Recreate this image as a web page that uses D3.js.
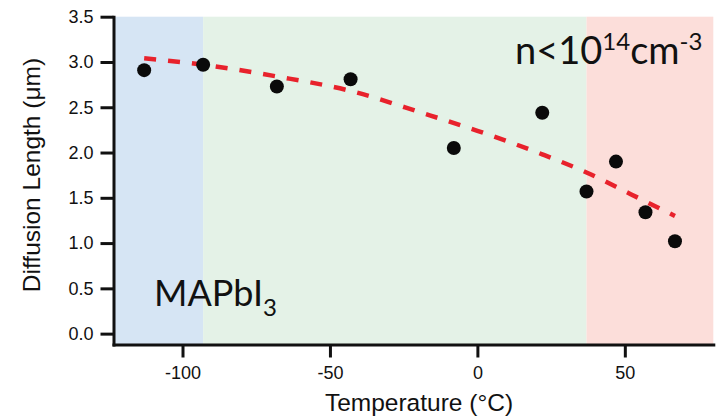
<!DOCTYPE html>
<html>
<head>
<meta charset="utf-8">
<script src="https://cdn.jsdelivr.net/npm/d3@7"></script>
<style>
  body { margin: 0; background: #fff; }
  svg { display: block; }
  .axis text { font-family: "Liberation Sans", Arial, sans-serif; font-size: 18px; fill: #111; }
  .axis path, .axis line { stroke: #111; stroke-width: 3; }
  .title { font-family: "Liberation Sans", Arial, sans-serif; font-size: 24.5px; fill: #111; }
  .note { font-family: Lato, "Open Sans", sans-serif; fill: #111; }
</style>
</head>
<body>
<svg width="721" height="416"></svg>
<script>
// measured points
const temps = [-113, -93, -68, -43, -8, 22, 37, 47, 57, 67];
const lengths = [2.91, 2.97, 2.73, 2.81, 2.05, 2.44, 1.57, 1.90, 1.34, 1.02];

// dashed guide curve
const fitTemps = [-113, -93, -68, -43, -18, 0, 22, 37, 52, 67];
const fitLengths = [3.04, 2.97, 2.84, 2.68, 2.43, 2.24, 1.98, 1.78, 1.54, 1.30];

// shaded temperature regions
const regionEdges = [-123.4, -93, 37, 80];
const regionColors = ["#d6e5f4", "#e4f2e7", "#fcdeda"];

const xTicks = [-100, -50, 0, 50];
const yTicks = [0, 0.5, 1, 1.5, 2, 2.5, 3, 3.5];

const svg = d3.select("svg");

const x = d3.scaleLinear().domain([-123.4, 80]).range([113.5, 713.3]);
const y = d3.scaleLinear().domain([-0.12, 3.5]).range([344.5, 16.7]);

// background bands
svg.append("g")
  .selectAll("rect")
  .data(regionColors)
  .enter()
  .append("rect")
  .attr("x", (d, i) => x(regionEdges[i]))
  .attr("y", y(3.5))
  .attr("width", (d, i) => x(regionEdges[i + 1]) - x(regionEdges[i]))
  .attr("height", y(-0.12) - y(3.5))
  .attr("fill", (d) => d);

// dashed fit line
const line = d3.line()
  .x((d, i) => x(fitTemps[i]))
  .y((d) => y(d))
  .curve(d3.curveMonotoneX);

svg.append("path")
  .attr("d", line(fitLengths))
  .attr("fill", "none")
  .attr("stroke", "#e8222c")
  .attr("stroke-width", 4.5)
  .attr("stroke-dasharray", "12,12");

// points
svg.append("g")
  .selectAll("circle")
  .data(lengths)
  .enter()
  .append("circle")
  .attr("cx", (d, i) => x(temps[i]))
  .attr("cy", (d) => y(d))
  .attr("r", 7)
  .attr("fill", "#0a0a0a");

// axes (plain hyphen for negatives, like the original)
const xAxis = d3.axisBottom(x)
  .tickValues(xTicks)
  .tickFormat((d) => String(d))
  .tickSize(13)
  .tickSizeOuter(0)
  .tickPadding(9);

svg.append("g")
  .attr("class", "axis")
  .attr("transform", "translate(0, 344.5)")
  .call(xAxis)
  .call((g) => g.select(".domain").attr("stroke-linecap", "square"));

const yAxis = d3.axisLeft(y)
  .tickValues(yTicks)
  .tickFormat((d) => d.toFixed(1))
  .tickSize(13)
  .tickSizeOuter(0)
  .tickPadding(7);

svg.append("g")
  .attr("class", "axis")
  .attr("transform", "translate(113.5, 0)")
  .call(yAxis)
  .call((g) => g.select(".domain").attr("stroke-linecap", "square"));

svg.selectAll(".axis text").attr("font-family", null).attr("font-size", null);

// axis titles
svg.append("text")
  .attr("class", "title")
  .attr("x", 419)
  .attr("y", 411)
  .attr("text-anchor", "middle")
  .text("Temperature (°C)");

svg.append("text")
  .attr("class", "title")
  .attr("transform", "translate(40, 175) rotate(-90)")
  .attr("text-anchor", "middle")
  .text("Diffusion Length (μm)");

// annotations
const mat = svg.append("text")
  .attr("class", "note")
  .attr("x", 154)
  .attr("y", 306)
  .style("font-size", "36px");
mat.append("tspan").text("MAPbI");
mat.append("tspan").attr("dy", 10).style("font-size", "24px").text("3");

const dens = svg.append("text")
  .attr("class", "note")
  .attr("x", 515)
  .attr("y", 64)
  .style("font-size", "38px");
dens.append("tspan").text("n<10");
dens.append("tspan").attr("dy", -14).style("font-size", "24px").text("14");
dens.append("tspan").attr("dy", 14).text("cm");
dens.append("tspan").attr("dy", -14).style("font-size", "24px").text("-3");
</script>
</body>
</html>
